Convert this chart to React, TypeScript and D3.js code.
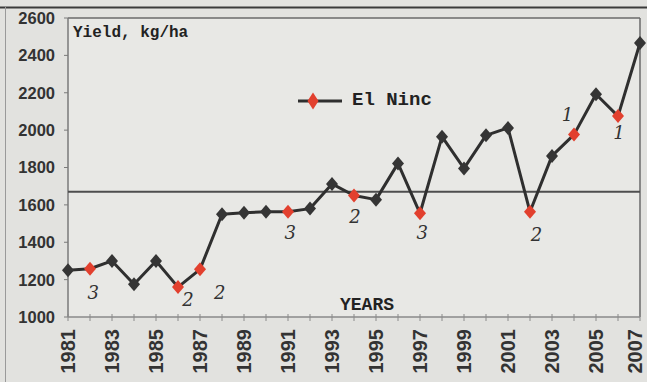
import React from "react";
import * as d3 from "d3";

const years = [1981,1982,1983,1984,1985,1986,1987,1988,1989,1990,1991,1992,1993,1994,1995,1996,1997,1998,1999,2000,2001,2002,2003,2004,2005,2006,2007];
const yieldValues = [1250,1258,1300,1175,1300,1160,1255,1550,1558,1563,1563,1580,1712,1650,1628,1822,1555,1965,1795,1972,2012,1563,1862,1976,2192,2075,2466];
const elNinoYears = [1982,1986,1987,1991,1994,1997,2002,2004,2006];
const yTicks = [1000,1200,1400,1600,1800,2000,2200,2400,2600];
const xTickLabels = [1981,1983,1985,1987,1989,1991,1993,1995,1997,1999,2001,2003,2005,2007];
const meanValue = 1670;
const annotations = [
  { year: 1982.15, value: 1128, text: "3" },
  { year: 1986.45, value: 1091, text: "2" },
  { year: 1987.9, value: 1128, text: "2" },
  { year: 1991.1, value: 1449, text: "3" },
  { year: 1994.05, value: 1535, text: "2" },
  { year: 1997.1, value: 1449, text: "3" },
  { year: 2002.3, value: 1439, text: "2" },
  { year: 2003.7, value: 2081, text: "1" },
  { year: 2006.05, value: 1984, text: "1" },
];

const W = 647, H = 382;

export default function App() {
  const x = d3.scaleLinear().domain([1981, 2007]).range([68, 640]);
  const y = d3.scaleLinear().domain([1000, 2600]).range([317, 18]);
  const data = years.map((yr, i) => ({ yr, v: yieldValues[i] }));
  const line = d3.line<{ yr: number; v: number }>().x(d => x(d.yr)).y(d => y(d.v));
  const diamond = (cx: number, cy: number, rx: number, ry: number) =>
    `M${cx},${cy - ry}L${cx + rx},${cy}L${cx},${cy + ry}L${cx - rx},${cy}Z`;
  const mono = "'Liberation Mono', 'DejaVu Sans Mono', monospace";
  const sans = "'Liberation Sans', Arial, sans-serif";

  return (
    <svg width={W} height={H} style={{ position: "fixed", left: 0, top: 0, display: "block" }}>
      <rect x={0} y={0} width={W} height={H} fill="#e2e2df" />
      <rect x={68} y={18} width={572} height={299} fill="#e8e8e5" />
      <line x1={0} x2={W} y1={7.5} y2={7.5} stroke="#3a3a3a" strokeWidth={2} />
      <line x1={5.5} x2={5.5} y1={7} y2={H} stroke="#9a9a9a" strokeWidth={1} />

      {/* plot frame */}
      <line x1={x(1981)} x2={x(2007)} y1={y(2600)} y2={y(2600)} stroke="#6a6a6a" strokeWidth={1.5} />
      <line x1={x(2007)} x2={x(2007)} y1={y(2600)} y2={y(1000)} stroke="#6a6a6a" strokeWidth={1.5} />
      <line x1={x(1981)} x2={x(1981)} y1={y(2600)} y2={y(1000)} stroke="#7a7a7a" strokeWidth={1.5} />
      <line x1={x(1981)} x2={x(2007)} y1={y(1000)} y2={y(1000)} stroke="#8a8a8a" strokeWidth={1.5} />

      {yTicks.map(t => (
        <g key={t}>
          <line x1={x(1981) - 4} x2={x(1981)} y1={y(t)} y2={y(t)} stroke="#7a7a7a" strokeWidth={1} />
          <text x={55} y={y(t)} dy="0.36em" textAnchor="end" fontFamily={sans} fontWeight="bold" fontSize={16.5} fill="#333">{t}</text>
        </g>
      ))}
      {years.map(yr => (
        <line key={yr} x1={x(yr)} x2={x(yr)} y1={y(1000) - 3} y2={y(1000) + 4} stroke="#8a8a8a" strokeWidth={1} />
      ))}
      {xTickLabels.map(t => (
        <text key={t} transform={`translate(${Math.min(x(t), W - 12)},329) rotate(-90)`} dy="0.36em" textAnchor="end"
          fontFamily={sans} fontWeight="bold" fontSize={20} fill="#333">{t}</text>
      ))}

      <line x1={x(1981)} x2={x(2007)} y1={y(meanValue)} y2={y(meanValue)} stroke="#4e4e4e" strokeWidth={2} />

      <path d={line(data) || ""} fill="none" stroke="#2f2f2f" strokeWidth={3} strokeLinejoin="round" />
      {data.map(d => (
        <path key={d.yr} d={diamond(x(d.yr), y(d.v), 6, 7)}
          fill={elNinoYears.includes(d.yr) ? "#e2402e" : "#353535"} />
      ))}

      <text x={73} y={37} fontFamily={mono} fontWeight="bold" fontSize={16} fill="#222">Yield, kg/ha</text>
      <line x1={298} x2={342} y1={101} y2={101} stroke="#2f2f2f" strokeWidth={3} />
      <path d={diamond(313, 101, 5.5, 8.5)} fill="#e2402e" />
      <text x={352} y={105} fontFamily={mono} fontWeight="bold" fontSize={19} fill="#222">El Ninc</text>
      <text x={340} y={310} fontFamily={mono} fontWeight="bold" fontSize={18} fill="#222">YEARS</text>

      {annotations.map((a, i) => (
        <text key={i} x={x(a.year)} y={y(a.value)} dy="0.35em" textAnchor="middle"
          fontFamily="'DejaVu Serif', serif" fontStyle="italic" fontSize={18} fill="#333">{a.text}</text>
      ))}
    </svg>
  );
}
